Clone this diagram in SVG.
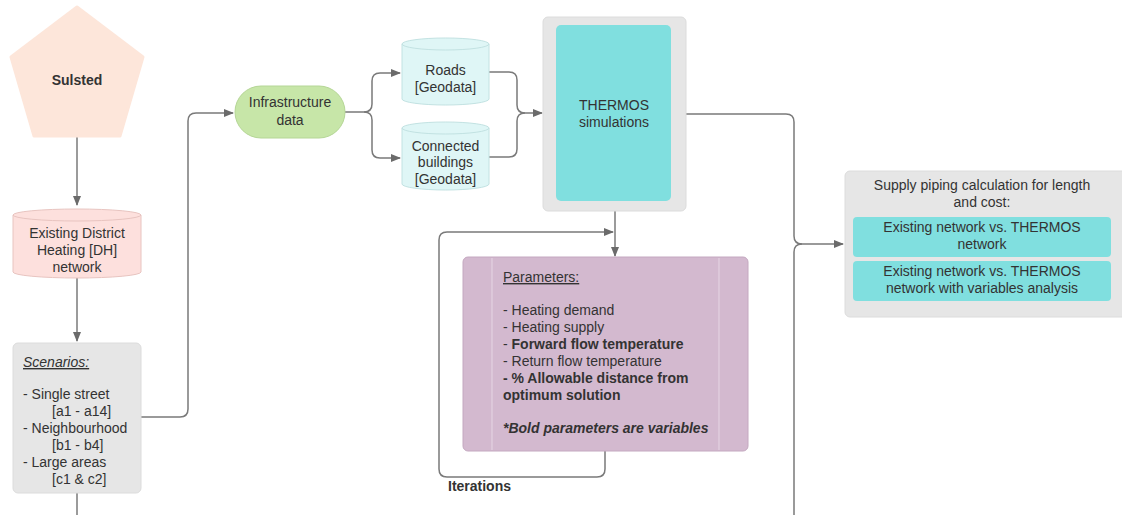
<svg xmlns="http://www.w3.org/2000/svg" width="1122" height="515" viewBox="0 0 1122 515">
<defs>
<marker id="ah" markerWidth="10" markerHeight="8" refX="9" refY="4" orient="auto" markerUnits="userSpaceOnUse">
<path d="M0,0 L10,4 L0,8 Z" fill="#6b6b6b"/>
</marker>
<style>
text{font-family:"Liberation Sans",Arial,sans-serif;font-size:14px;fill:#333}
.c{text-anchor:middle}
.b{font-weight:bold}
.ln{fill:none;stroke:#7a7a7a;stroke-width:1.5}
.grey{fill:#e6e6e6;stroke:#dcdcdc;stroke-width:1}
.cyan{fill:#80dfdf}
</style>
</defs>
<rect width="1122" height="515" fill="#fff"/>

<g id="connectors">
<path class="ln" d="M77,137 V205" marker-end="url(#ah)"/>
<path class="ln" d="M77,278 V341" marker-end="url(#ah)"/>
<path class="ln" d="M77,493 V515"/>
<path class="ln" d="M141,417 H180 Q188,417 188,409 V121 Q188,113 196,113 H233" marker-end="url(#ah)"/>
<path class="ln" d="M345,112 H364 Q372,112 372,104 V81 Q372,73 380,73 H400" marker-end="url(#ah)"/>
<path class="ln" d="M364,112 Q372,112 372,120 V150 Q372,158 380,158 H400" marker-end="url(#ah)"/>
<path class="ln" d="M489,72 H509 Q517,72 517,80 V105 Q517,113 525,113 H542" marker-end="url(#ah)"/>
<path class="ln" d="M489,157 H509 Q517,157 517,149 V121 Q517,113 525,113"/>
<path class="ln" d="M686,114 H786 Q794,114 794,122 V236 Q794,244 802,244 H843" marker-end="url(#ah)"/>
<path class="ln" d="M794,515 V252 Q794,244 802,244"/>
<path class="ln" d="M615,211 V256" marker-end="url(#ah)"/>
<path class="ln" d="M605,451 V469 Q605,477 597,477 H447 Q439,477 439,469 V240 Q439,232 447,232 H613" marker-end="url(#ah)"/>
</g>

<g id="sulsted">
<polygon points="77,7 143,57 120,136 34,136 11,57" fill="#fde6da" stroke="#fde6da" stroke-width="3" stroke-linejoin="round"/>
<text x="77" y="85" class="c b">Sulsted</text>
</g>

<g id="dh-network">
<path d="M13,215 A64,6 0 0 1 141,215 V272 A64,6 0 0 1 13,272 Z" fill="#fde0dd" stroke="#e8c4c0" stroke-width="1"/>
<path d="M13,215 A64,6 0 0 0 141,215" fill="none" stroke="#e8c4c0" stroke-width="1"/>
<text x="77" y="238" class="c">Existing District</text>
<text x="77" y="255" class="c">Heating [DH]</text>
<text x="77" y="272" class="c">network</text>
</g>

<g id="scenarios">
<rect x="13" y="343" width="128" height="150" rx="5" class="grey"/>
<text x="23" y="367" font-style="italic" text-decoration="underline">Scenarios:</text>
<text x="23" y="399">- Single street</text>
<text x="52" y="416">[a1 - a14]</text>
<text x="23" y="433">- Neighbourhood</text>
<text x="52" y="450">[b1 - b4]</text>
<text x="23" y="467">- Large areas</text>
<text x="52" y="484">[c1 &amp; c2]</text>
</g>

<g id="infrastructure">
<rect x="235" y="86" width="110" height="52" rx="26" fill="#c7e6a8" stroke="#b5d696" stroke-width="1"/>
<text x="290" y="107" class="c">Infrastructure</text>
<text x="290" y="125" class="c">data</text>
</g>

<g id="roads">
<path d="M402,44 A43.5,6 0 0 1 489,44 V99 A43.5,6 0 0 1 402,99 Z" fill="#dff6f6" stroke="#c2e2e2" stroke-width="1"/>
<path d="M402,44 A43.5,6 0 0 0 489,44" fill="none" stroke="#c2e2e2" stroke-width="1"/>
<text x="445.5" y="75" class="c">Roads</text>
<text x="445.5" y="92" class="c">[Geodata]</text>
</g>

<g id="buildings">
<path d="M402,128 A43.5,6 0 0 1 489,128 V184 A43.5,6 0 0 1 402,184 Z" fill="#dff6f6" stroke="#c2e2e2" stroke-width="1"/>
<path d="M402,128 A43.5,6 0 0 0 489,128" fill="none" stroke="#c2e2e2" stroke-width="1"/>
<text x="445.5" y="151" class="c">Connected</text>
<text x="445.5" y="167" class="c">buildings</text>
<text x="445.5" y="184" class="c">[Geodata]</text>
</g>

<g id="thermos">
<rect x="543" y="17" width="143" height="194" rx="5" class="grey"/>
<rect x="556" y="25" width="115" height="176" rx="5" class="cyan"/>
<text x="614" y="110" class="c">THERMOS</text>
<text x="614" y="127" class="c">simulations</text>
</g>

<g id="parameters">
<rect x="463" y="257" width="285" height="194" rx="5" fill="#d3b9cf" stroke="#c4a8c0" stroke-width="1"/>
<line x1="492" y1="258" x2="492" y2="450" stroke="#e6d6e4" stroke-width="1"/>
<line x1="719" y1="258" x2="719" y2="450" stroke="#e6d6e4" stroke-width="1"/>
<text x="503" y="282" text-decoration="underline">Parameters:</text>
<text x="503" y="315">- Heating demand</text>
<text x="503" y="332">- Heating supply</text>
<text x="503" y="349">- <tspan class="b">Forward flow temperature</tspan></text>
<text x="503" y="366">- Return flow temperature</text>
<text x="503" y="383" class="b">- % Allowable distance from</text>
<text x="503" y="400" class="b">optimum solution</text>
<text x="503" y="433" class="b" font-style="italic">*Bold parameters are variables</text>
</g>

<g id="iterations-label">
<text x="448" y="491" class="b">Iterations</text>
</g>

<g id="supply">
<rect x="845" y="171" width="285" height="146" rx="5" class="grey"/>
<text x="982" y="190" class="c">Supply piping calculation for length</text>
<text x="982" y="207" class="c">and cost:</text>
<rect x="853" y="217" width="258" height="40" rx="4" class="cyan"/>
<text x="982" y="232" class="c">Existing network vs. THERMOS</text>
<text x="982" y="249" class="c">network</text>
<rect x="853" y="261" width="258" height="40" rx="4" class="cyan"/>
<text x="982" y="276" class="c">Existing network vs. THERMOS</text>
<text x="982" y="293" class="c">network with variables analysis</text>
</g>
</svg>
